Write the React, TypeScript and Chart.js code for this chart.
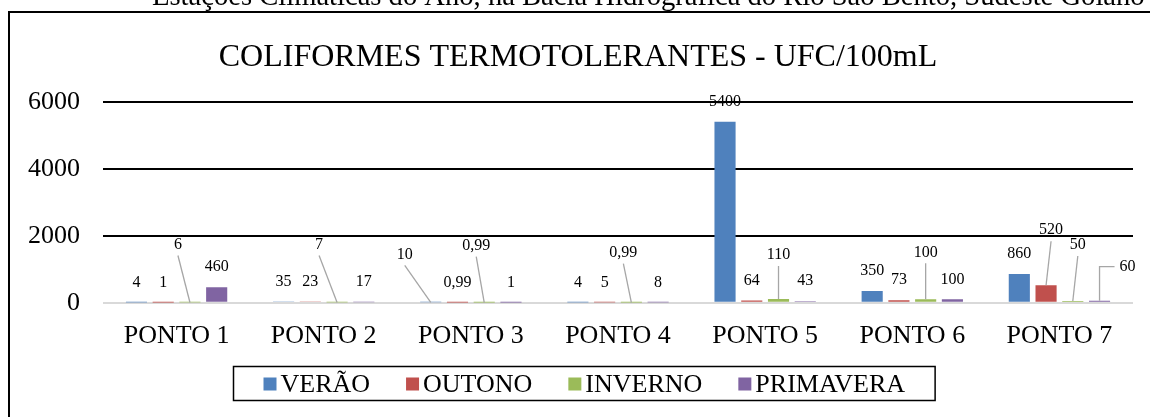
import React, { useEffect, useRef } from "react";
import { Chart, registerables } from "chart.js";

Chart.register(...registerables);

const categories = ["PONTO 1", "PONTO 2", "PONTO 3", "PONTO 4", "PONTO 5", "PONTO 6", "PONTO 7"];
const seriesNames = ["VERÃO", "OUTONO", "INVERNO", "PRIMAVERA"];
const verao = [4, 35, 10, 4, 5400, 350, 860];
const outono = [1, 23, 0.99, 5, 64, 73, 520];
const inverno = [6, 7, 0.99, 0.99, 110, 100, 50];
const primavera = [460, 17, 1, 8, 43, 100, 60];
const yTicks = [0, 2000, 4000, 6000];

const supTitle = "Estações Climáticas do Ano, na Bacia Hidrográfica do Rio São Bento, Sudeste Goiano";
const chartTitle = "COLIFORMES TERMOTOLERANTES - UFC/100mL";

const COLORS = ["#4F81BD", "#C0504D", "#9BBB59", "#8064A2"];
const FONT = "'Liberation Serif', 'Times New Roman', serif";

// label displacement (px) for labels moved away from their bar, key = "dataset-index"
const labelMoves: Record<string, { dx: number; dy: number; elbow?: boolean }> = {
  "2-0": { dx: -12, dy: -38 },
  "2-1": { dx: -18, dy: -38 },
  "0-2": { dx: -26, dy: -28 },
  "2-2": { dx: -8, dy: -37 },
  "2-3": { dx: -8, dy: -30 },
  "2-4": { dx: 0, dy: -24 },
  "2-5": { dx: 0, dy: -27 },
  "1-6": { dx: 5, dy: -35 },
  "2-6": { dx: 5, dy: -36 },
  "3-6": { dx: 28, dy: -14, elbow: true },
};

const fmt = (v: number) => String(v).replace(".", ",");

const decorPlugin = {
  id: "decor",
  afterDraw(chart: any) {
    const ctx = chart.ctx as CanvasRenderingContext2D;
    ctx.save();
    // outer box
    ctx.strokeStyle = "#000";
    ctx.lineWidth = 2;
    ctx.strokeRect(9, 12, 1200, 500);

    // cut sup title
    ctx.fillStyle = "#000";
    ctx.font = `28.6px ${FONT}`;
    ctx.textAlign = "left";
    ctx.textBaseline = "alphabetic";
    ctx.fillText(supTitle, 152, 5);

    // title
    ctx.font = `32px ${FONT}`;
    ctx.textAlign = "center";
    ctx.textBaseline = "middle";
    ctx.fillText(chartTitle, 578, 58);

    // data labels
    ctx.font = `16px ${FONT}`;
    chart.data.datasets.forEach((ds: any, di: number) => {
      const meta = chart.getDatasetMeta(di);
      meta.data.forEach((bar: any, i: number) => {
        const v = ds.data[i];
        const mv = labelMoves[`${di}-${i}`];
        let lx = bar.x;
        let ly = bar.y - 20;
        if (mv) {
          lx += mv.dx;
          ly += mv.dy;
          ctx.strokeStyle = "#A6A6A6";
          ctx.lineWidth = 1.3;
          ctx.beginPath();
          if (mv.elbow) {
            const w = ctx.measureText(fmt(v)).width;
            ctx.moveTo(lx - w / 2 - 5, ly);
            ctx.lineTo(bar.x, ly);
            ctx.lineTo(bar.x, bar.y);
          } else {
            ctx.moveTo(lx, ly + 11);
            ctx.lineTo(bar.x, bar.y);
          }
          ctx.stroke();
        }
        ctx.fillStyle = "#000";
        ctx.textAlign = "center";
        ctx.textBaseline = "middle";
        ctx.fillText(fmt(v), lx, ly);
      });
    });

    // legend (centred box with border)
    ctx.font = `26px ${FONT}`;
    const sq = 13;
    const sqGap = 4;
    const itemGap = 36;
    const margin = 30;
    const widths = seriesNames.map((n) => ctx.measureText(n).width);
    const inner = widths.reduce((a, b) => a + b, 0) + seriesNames.length * (sq + sqGap) + (seriesNames.length - 1) * itemGap;
    const boxW = inner + 2 * margin;
    const boxL = Math.round(584 - boxW / 2) + 0.5;
    ctx.lineWidth = 1.5;
    ctx.strokeStyle = "#000";
    ctx.strokeRect(boxL, 366.5, boxW, 34);
    let x = boxL + margin;
    const cy = 384;
    seriesNames.forEach((name, k) => {
      ctx.fillStyle = COLORS[k];
      ctx.fillRect(x, cy - 6.5, sq, sq);
      x += sq + sqGap;
      ctx.fillStyle = "#000";
      ctx.textAlign = "left";
      ctx.textBaseline = "middle";
      ctx.fillText(name, x, cy + 1);
      x += widths[k] + itemGap;
    });
    ctx.restore();
  },
};

export default function App() {
  const ref = useRef<HTMLCanvasElement>(null);
  useEffect(() => {
    if (!ref.current) return;
    const series = [verao, outono, inverno, primavera];
    const chart = new Chart(ref.current, {
      type: "bar",
      data: {
        labels: categories,
        datasets: series.map((d, k) => ({
          label: seriesNames[k],
          data: d,
          backgroundColor: COLORS[k],
          borderWidth: 0,
        })),
      },
      options: {
        responsive: false,
        animation: false,
        layout: { padding: { left: 0, top: 101.7, right: 17, bottom: 54.3 } },
        datasets: { bar: { barPercentage: 0.79, categoryPercentage: 0.727 } },
        plugins: {
          legend: { display: false },
          title: { display: false },
          tooltip: { enabled: false },
        },
        scales: {
          x: {
            grid: { display: false },
            border: { display: false },
            ticks: { font: { family: FONT, size: 26 }, color: "#000", padding: 10, maxRotation: 0 },
            afterFit: (s: any) => {
              s.height = 60;
            },
          },
          y: {
            min: 0,
            max: 6000,
            afterBuildTicks: (s: any) => {
              s.ticks = yTicks.map((v) => ({ value: v }));
            },
            grid: {
              color: (c: any) => (c.tick && c.tick.value === 0 ? "#D9D9D9" : "#000"),
              lineWidth: 2,
              drawTicks: false,
            },
            border: { display: false },
            ticks: {
              font: { family: FONT, size: 26 },
              color: "#000",
              padding: 23,
              callback: (v: any) => String(v),
            },
            afterFit: (s: any) => {
              s.width = 103;
            },
          },
        },
      },
      plugins: [decorPlugin],
    } as any);
    return () => chart.destroy();
  }, []);
  return (
    <div style={{ position: "absolute", left: 0, top: 0, width: 1150, height: 417, overflow: "hidden", background: "#fff" }}>
      <canvas ref={ref} width={1150} height={417} style={{ width: 1150, height: 417, display: "block" }} />
    </div>
  );
}
